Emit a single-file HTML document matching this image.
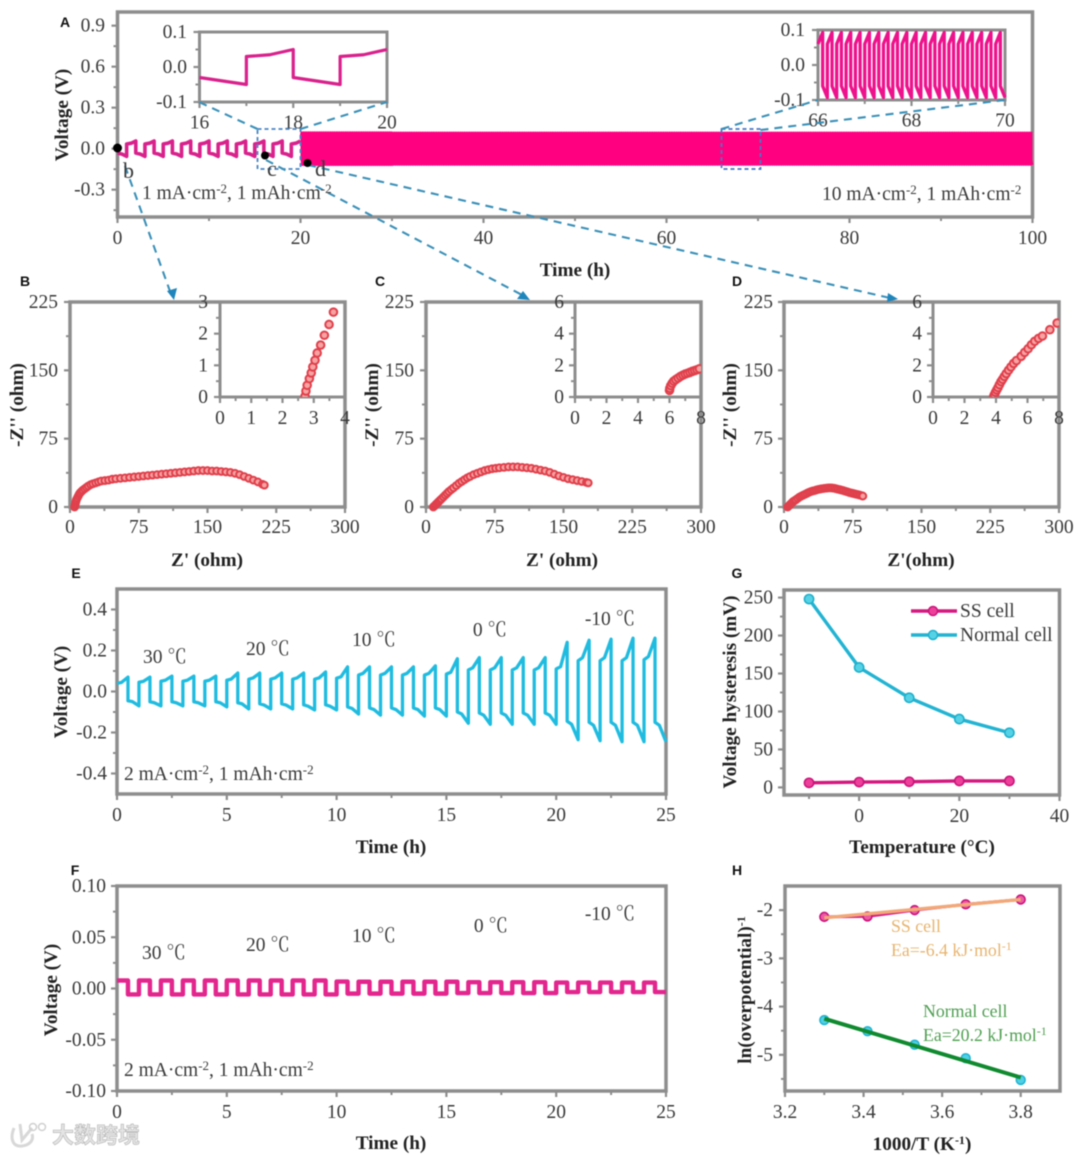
<!DOCTYPE html>
<html lang="en">
<head>
<meta charset="utf-8">
<title>Electrochemical cell performance panels</title>
<style>
html,body{margin:0;padding:0;background:#fff;}
svg{display:block;filter:blur(.4px);}
text{font-family:"Liberation Serif","Noto Serif CJK SC",serif;fill:#3a3a3a;}
.t{font-size:19.5px;}
.title{font-size:19.2px;font-weight:bold;fill:#222;text-anchor:middle;}
.tag{font-family:"Liberation Sans",sans-serif;font-size:14px;font-weight:bold;fill:#111;text-anchor:middle;}
.cap{font-size:19.5px;}
.tmp{font-size:19.5px;text-anchor:middle;}
</style>
</head>
<body>
<svg id="figure" xmlns="http://www.w3.org/2000/svg" width="1080" height="1155" viewBox="0 0 1080 1155">
  <defs>
    <clipPath id="clip-b"><rect x="220" y="302" width="125" height="95"/></clipPath>
    <clipPath id="clip-c"><rect x="575" y="302" width="126" height="95"/></clipPath>
    <clipPath id="clip-d"><rect x="933" y="302" width="126" height="95"/></clipPath>
  </defs>
  <rect width="1080" height="1155" fill="#fff"/>
  <g id="plots"></g>

  <g fill="none">
    <rect x="257.5" y="129" width="43" height="40" stroke="#4a85c4" stroke-width="1.8" stroke-dasharray="4 3"/>
    <rect x="721.5" y="129" width="39" height="40" stroke="#4a75c4" stroke-width="1.8" stroke-dasharray="4 3"/>
    <g stroke="#3a90b8" stroke-width="2.1" stroke-dasharray="8 6">
      <line x1="257.5" y1="129" x2="199" y2="102"/>
      <line x1="300.5" y1="129" x2="387" y2="102"/>
      <line x1="721.5" y1="129" x2="818" y2="100"/>
      <line x1="760.5" y1="130" x2="1005" y2="100"/>
      <line x1="125" y1="166" x2="171" y2="294"/>
      <line x1="266" y1="160" x2="524" y2="296"/>
      <line x1="308" y1="165" x2="890" y2="298"/>
    </g>
    <polygon points="167,291 177,288 174,300" fill="#1f86bc"/>
    <polygon points="523,291 530,300 517,299" fill="#1f86bc"/>
    <polygon points="888,293 898,299 887,302" fill="#1f86bc"/>
  </g>

  <g fill="#000">
    <circle cx="117.5" cy="148" r="4.5"/>
    <circle cx="265" cy="155.5" r="4"/>
    <circle cx="307.5" cy="163" r="4"/>
  </g>

  <g>
    <text class="tag" x="65" y="27">A</text>
    <text class="tag" x="25" y="286">B</text>
    <text class="tag" x="380" y="286">C</text>
    <text class="tag" x="737" y="286">D</text>
    <text class="tag" x="76" y="578">E</text>
    <text class="tag" x="737" y="578">G</text>
    <text class="tag" x="75" y="875">F</text>
    <text class="tag" x="737" y="875">H</text>
  </g>

  <g>
    <text class="title" x="0" y="0" transform="translate(68,115) rotate(-90)">Voltage (V)</text>
    <text class="title" x="575" y="276">Time (h)</text>
    <text class="title" x="0" y="0" transform="translate(23,405) rotate(-90)">-Z'' (ohm)</text>
    <text class="title" x="207" y="566">Z' (ohm)</text>
    <text class="title" x="0" y="0" transform="translate(378,405) rotate(-90)">-Z'' (ohm)</text>
    <text class="title" x="562" y="566">Z' (ohm)</text>
    <text class="title" x="0" y="0" transform="translate(736,405) rotate(-90)">-Z'' (ohm)</text>
    <text class="title" x="921" y="566">Z'(ohm)</text>
    <text class="title" x="0" y="0" transform="translate(67,692) rotate(-90)">Voltage (V)</text>
    <text class="title" x="391" y="853">Time (h)</text>
    <text class="title" x="0" y="0" transform="translate(736,692) rotate(-90)">Voltage hysteresis (mV)</text>
    <text class="title" x="922" y="853">Temperature (°C)</text>
    <text class="title" x="0" y="0" transform="translate(57,990) rotate(-90)">Voltage (V)</text>
    <text class="title" x="391" y="1149">Time (h)</text>
    <text class="title" x="0" y="0" transform="translate(751,990) rotate(-90)">ln(overpotential)<tspan dy="-6" font-size="12">-1</tspan></text>
    <text class="title" x="922" y="1150">1000/T (K<tspan dy="-6" font-size="12">-1</tspan><tspan dy="6">)</tspan></text>
  </g>

  <g>
    <text x="123" y="178" style="font-size:22px">b</text>
    <text x="267" y="176" style="font-size:22px">c</text>
    <text x="315" y="176" style="font-size:22px">d</text>
    <text class="cap" x="142" y="199">1  mA·cm<tspan dy="-6" font-size="13">-2</tspan><tspan dy="6">, 1 mAh·cm</tspan><tspan dy="-6" font-size="13">-2</tspan></text>
    <text class="cap" x="822" y="200">10  mA·cm<tspan dy="-6" font-size="13">-2</tspan><tspan dy="6">, 1 mAh·cm</tspan><tspan dy="-6" font-size="13">-2</tspan></text>
    <text class="cap" x="124" y="780">2 mA·cm<tspan dy="-6" font-size="13">-2</tspan><tspan dy="6">, 1 mAh·cm</tspan><tspan dy="-6" font-size="13">-2</tspan></text>
    <text class="tmp" x="165" y="663">30 ℃</text>
    <text class="tmp" x="268" y="655">20 ℃</text>
    <text class="tmp" x="374" y="646">10 ℃</text>
    <text class="tmp" x="490" y="636">0 ℃</text>
    <text class="tmp" x="610" y="625">-10 ℃</text>
    <text class="cap" x="124" y="1076">2 mA·cm<tspan dy="-6" font-size="13">-2</tspan><tspan dy="6">, 1 mAh·cm</tspan><tspan dy="-6" font-size="13">-2</tspan></text>
    <text class="tmp" x="164" y="959">30 ℃</text>
    <text class="tmp" x="268" y="951">20 ℃</text>
    <text class="tmp" x="374" y="942">10 ℃</text>
    <text class="tmp" x="491" y="932">0 ℃</text>
    <text class="tmp" x="610" y="920">-10 ℃</text>
    <text x="891" y="932" style="font-size:17.8px;fill:#e8b46e">SS cell</text>
    <text x="891" y="956" style="font-size:17.8px;fill:#e8b46e">Ea=-6.4 kJ·mol<tspan dy="-6" font-size="12">-1</tspan></text>
    <text x="923" y="1017" style="font-size:17.8px;fill:#4f9f52">Normal cell</text>
    <text x="923" y="1041" style="font-size:17.8px;fill:#4f9f52">Ea=20.2 kJ·mol<tspan dy="-6" font-size="12">-1</tspan></text>
  </g>

  <g>
    <line x1="911" y1="611" x2="957" y2="611" stroke="#d4187f" stroke-width="3.4"/>
    <circle cx="933" cy="611" r="4.5" fill="#ee3f9b" stroke="#c9157a" stroke-width="1.5"/>
    <text class="t" x="960" y="617">SS cell</text>
    <line x1="911" y1="635" x2="957" y2="635" stroke="#22b4d3" stroke-width="3.4"/>
    <circle cx="933" cy="635" r="4.5" fill="#56d2e6" stroke="#1fb0cc" stroke-width="1.5"/>
    <text class="t" x="960" y="641">Normal cell</text>
  </g>

  <g>
    <path d="M14 1128 C10 1138 12 1147 22 1146 C30 1145 34 1140 32 1134 M20 1124 L22 1140 L32 1128" fill="none" stroke="#d8d8d8" stroke-width="3"/>
    <circle cx="33" cy="1127" r="3.5" fill="none" stroke="#d0d0d0" stroke-width="1.5"/>
    <circle cx="42" cy="1127" r="3.5" fill="none" stroke="#d0d0d0" stroke-width="1.5"/>
    <text x="52" y="1143" style="font-family:'Liberation Sans','Noto Sans CJK SC',sans-serif;font-size:22px;font-weight:bold;fill:#e4e4e4;stroke:#b5b5b5;stroke-width:.6">大数跨境</text>
  </g>
</svg>

<script>
// ---------- Panel A data ----------
const aXLabels = ['0','20','40','60','80','100'];
const aYLabels = ['-0.3','0.0','0.3','0.6','0.9'];
const aPosPeak = [.056,.056,.056,.056,.056,.056,.056,.056,.056,.056];
const aPosPlateau = [.034,.034,.034,.034,.034,.034,.034,.034,.034,.034];
const aNegPeak = [-.056,-.056,-.056,-.056,-.056,-.056,-.056,-.056,-.056,-.056];
const aNegPlateau = [-.032,-.032,-.032,-.032,-.032,-.032,-.032,-.032,-.032,-.032];
const aBandDecades = [20,30,40,50,60,70,80,90];
const aBandPeak = [.121,.119,.119,.119,.119,.119,.119,.119];
const aBandPlateau = [.085,.085,.085,.085,.085,.085,.085,.085];
// inset 16-20 h
const a1XLabels = ['16','18','20'];
const a1YLabels = ['-0.1','0.0','0.1'];
const a1Time = [16,16.5,17,17,17.5,18,18,18.5,19,19,19.5,20];
const a1Volt = [-.03,-.04,-.05,.03,.035,.05,-.03,-.04,-.05,.03,.035,.05];
// inset 66-70 h
const a2XLabels = ['66','68','70'];
const a2YLabels = ['-0.1','0.0','0.1'];
const a2Peak = [.093,.093,.093,.093,.093,.093,.093,.093,.093,.093,.093,.093,.093,.093,.093,.093,.093,.093,.093,.093];
const a2Plateau = [.06,.06,.06,.06,.06,.06,.06,.06,.06,.06,.06,.06,.06,.06,.06,.06,.06,.06,.06,.06];

// ---------- Panels B, C, D data ----------
const zXLabels = ['0','75','150','225','300'];
const zYLabels = ['0','75','150','225'];
const bZreal = [5,5.5,6,6.5,7,8,9,10,11,12.5,14,16,18,20,22.5,25,28,31,34,38,42,46,50,55,60,65,70,75,80,85,90,95,100,105,110,115,120,125,130,135,140,145,150,155,160,165,170,175,180,185,190,195,200,205,210,212];
const bZimag = [0,2,4,6,8,10,12,14,15.5,17,18.5,20,21.5,23,24.5,25.5,26.5,27.5,28.5,29,29.5,30.5,31,31.5,32,32.5,33,33.5,34,34.5,35,35.5,36,36.5,37,37.5,38,38.5,39,39.5,40,40,40,39.5,39.5,39,38.5,38,37,35.5,33.5,31.5,29.5,27.5,25,24];
const bInXLabels = ['0','1','2','3','4'];
const bInYLabels = ['0','1','2','3'];
const bInReal = [2.72,2.75,2.79,2.86,2.92,2.97,3.04,3.11,3.22,3.34,3.49,3.63];
const bInImag = [.02,.19,.37,.58,.76,.95,1.16,1.39,1.64,1.95,2.29,2.68];

const cZreal = [8,9,10,11,12,13,14,15.5,17,19,21,23,25,27.5,30,33,36,39,42,45,48,52,56,60,64,68,72,76,80,85,90,95,100,105,110,115,120,125,130,135,140,145,150,155,160,165,170,175,177];
const cZimag = [0,1,2,3,4,5,6,7.5,9,11,13,15,17,19,21,23.5,26,28,30,32,33.5,35.5,37,38.5,40,41,42,42.5,43,43.5,44,44,44,43.5,43,42.5,41.5,40.5,39.5,38,36,34,32.5,31,30,29,28,27,26.5];
const cInXLabels = ['0','2','4','6','8'];
const cInYLabels = ['0','2','4','6'];
const cInReal = [6.0,6.02,6.08,6.17,6.27,6.4,6.55,6.7,6.85,7.0,7.15,7.3,7.45,7.6,7.75,7.9];
const cInImag = [.42,.55,.72,.87,1.0,1.1,1.2,1.3,1.38,1.45,1.5,1.56,1.62,1.67,1.72,1.78];

const dZreal = [4,5,6,7,8,9,10,11.5,13,15,17,19,21,23,25,27,29,31,33,35,37,39,41,43,45,47,49,51,53,55,57,59,61,63,65,67,69,71,73,75,77,79,81,83,85,86];
const dZimag = [0,1,2,3,4,5,6,7,8,9.5,11,12,13,14,15,16,16.8,17.5,18,18.6,19.2,19.6,20,20.3,20.6,20.8,21,21,20.8,20.5,20,19.5,19,18.5,18,17.3,16.7,16,15.5,15,14.5,14,13.5,13,12.3,12];
const dInReal = [3.85,3.9,3.97,4.05,4.13,4.22,4.32,4.42,4.53,4.65,4.8,4.95,5.12,5.3,5.6,5.82,6.04,6.25,6.46,6.7,6.95,7.42,7.88];
const dInImag = [.03,.15,.3,.45,.6,.78,.97,1.12,1.3,1.48,1.7,1.9,2.12,2.3,2.57,2.82,3.05,3.3,3.52,3.7,3.85,4.25,4.67];

// ---------- Panel E data (one value per 1 h cycle) ----------
const eXLabels = ['0','5','10','15','20','25'];
const eYLabels = ['-0.4','-0.2','0.0','0.2','0.4'];
const ePosPlateau = [.04,.045,.05,.05,.05,.055,.06,.06,.06,.06,.065,.08,.08,.08,.08,.085,.105,.105,.105,.105,.11,.15,.15,.15,.155];
const ePosPeak = [.07,.07,.075,.075,.075,.09,.09,.09,.09,.095,.12,.12,.12,.12,.125,.16,.165,.165,.165,.165,.24,.25,.255,.26,.26];
const eNegPlateau = [-.045,-.05,-.05,-.05,-.05,-.055,-.06,-.06,-.065,-.065,-.075,-.08,-.08,-.08,-.08,-.1,-.105,-.105,-.105,-.105,-.145,-.15,-.15,-.15,-.15];
const eNegPeak = [-.07,-.07,-.07,-.07,-.075,-.085,-.085,-.085,-.09,-.09,-.11,-.115,-.115,-.12,-.12,-.155,-.16,-.16,-.16,-.16,-.235,-.24,-.245,-.245,-.245];

// ---------- Panel F data (one value per 1 h cycle) ----------
const fXLabels = ['0','5','10','15','20','25'];
const fYLabels = ['-0.10','-0.05','0.00','0.05','0.10'];
const fHigh = [.0078,.0078,.0078,.0078,.0078,.0078,.0078,.0078,.0078,.0078,.0068,.0066,.0066,.0066,.0066,.0066,.0062,.0062,.0062,.0062,.0058,.0058,.0058,.0058,.0058];
const fLow = [-.0058,-.0058,-.0058,-.0058,-.0058,-.0058,-.0058,-.0058,-.0058,-.0058,-.005,-.005,-.005,-.005,-.005,-.0045,-.0045,-.0045,-.0045,-.0045,-.0035,-.0035,-.0035,-.0035,-.0035];

// ---------- Panel G data ----------
const gXLabels = ['0','20','40'];
const gYLabels = ['0','50','100','150','200','250'];
const gTemperature = [-10,0,10,20,30];
const gSSCell = [6,7,7.5,8.5,8.5];
const gNormalCell = [248,158,118,90,72];

// ---------- Panel H data ----------
const hXLabels = ['3.2','3.4','3.6','3.8'];
const hYLabels = ['-5','-4','-3','-2'];
const hInvT = [3.30,3.41,3.53,3.66,3.80];
const hSS = [-2.14,-2.13,-2.0,-1.88,-1.78];
const hNormal = [-4.28,-4.51,-4.79,-5.07,-5.52];
const hFitX = [3.30,3.80];
const hSSFit = [-2.16,-1.78];
const hNormalFit = [-4.25,-5.47];

// ---------- Helpers ----------
const SVGNS = 'http://www.w3.org/2000/svg';
const plots = document.getElementById('plots');
const GREY = '#8d8d8d';

function add(tag, attrs, name, parent) {
  const el = document.createElementNS(SVGNS, tag);
  for (const k in attrs) el.setAttribute(k, attrs[k]);
  
  
  (parent || plots).appendChild(el);
  return el;
}
function scale(d0, d1, r0, r1) {
  return v => r0 + (v - d0) * (r1 - r0) / (d1 - d0);
}
function minors(labels, lo, hi) {
  const t = labels.map(Number);
  const step = t[1] - t[0];
  const out = [];
  for (let i = -1; i < t.length; i++) {
    const v = t[0] + (i + .5) * step;
    if (v > lo + 1e-9 && v < hi - 1e-9) out.push(v);
  }
  return out;
}
function drawAxes(o) {
  const sx = scale(o.xd[0], o.xd[1], o.l, o.r);
  const sy = scale(o.yd[0], o.yd[1], o.b, o.t);
  const g = add('g', {}, o.name + '-axes');
  const lineAttrs = (x1, y1, x2, y2, w) => ({x1, y1, x2, y2, stroke: GREY, 'stroke-width': w});
  o.xLabels.forEach(s => {
    const v = Number(s), x = sx(v);
    add('line', lineAttrs(x, o.b, x, o.b + 6, 2.2), o.name + '-x-tick', g);
    const t = add('text', {x: x, y: o.xLabelY + 6, 'text-anchor': 'middle', class: 't'}, o.name + '-x-tick-label', g);
    t.textContent = s;
  });
  minors(o.xLabels, o.xd[0], o.xd[1]).forEach(v => {
    add('line', lineAttrs(sx(v), o.b, sx(v), o.b + 4, 2), o.name + '-x-minor-tick', g);
  });
  o.yLabels.forEach(s => {
    const v = Number(s), y = sy(v);
    add('line', lineAttrs(o.l - 6, y, o.l, y, 2.2), o.name + '-y-tick', g);
    const t = add('text', {x: o.yLabelX, y: y + 6, 'text-anchor': 'end', class: 't'}, o.name + '-y-tick-label', g);
    t.textContent = s;
  });
  minors(o.yLabels, o.yd[0], o.yd[1]).forEach(v => {
    add('line', lineAttrs(o.l - 4, sy(v), o.l, sy(v), 2), o.name + '-y-minor-tick', g);
  });
  add('rect', {x: o.l, y: o.t, width: o.r - o.l, height: o.b - o.t, fill: 'none', stroke: GREY, 'stroke-width': o.frameW || 3.5}, o.name + '-frame', g);
  return {sx, sy};
}
function polyline(pts, color, width, name, extra) {
  const attrs = Object.assign({
    points: pts.map(p => p[0].toFixed(2) + ',' + p[1].toFixed(2)).join(' '),
    fill: 'none', stroke: color, 'stroke-width': width, 'stroke-linejoin': 'round'
  }, extra || {});
  return add('polyline', attrs, name);
}
function nyquist(xs, ys, sc, r, name, clip) {
  const g = add('g', clip ? {'clip-path': 'url(#' + clip + ')'} : {}, name);
  xs.forEach((x, i) => {
    add('circle', {cx: sc.sx(x), cy: sc.sy(ys[i]), r: r, fill: '#f6a3a2', stroke: '#e0404c', 'stroke-width': 2}, name + '-point', g);
  });
}
function dots(xs, ys, sc, r, fill, stroke, name) {
  xs.forEach((x, i) => {
    add('circle', {cx: sc.sx(x), cy: sc.sy(ys[i]), r: r, fill: fill, stroke: stroke, 'stroke-width': 1.6}, name);
  });
}

// ---------- Panel A ----------
const A = drawAxes({name: 'a', xd: [0, 100], yd: [-.5, 1], l: 117.5, r: 1032.5, t: 12, b: 217, xLabels: aXLabels, yLabels: aYLabels, xLabelY: 238, yLabelX: 105});
const aPts = [];
aPosPeak.forEach((_, i) => {
  const k = i * 2;
  aPts.push([A.sx(k), A.sy(aNegPlateau[i])], [A.sx(k + .5), A.sy(aNegPlateau[i] - .008)], [A.sx(k + 1), A.sy(aNegPeak[i])]);
  aPts.push([A.sx(k + 1), A.sy(aPosPlateau[i])], [A.sx(k + 1.5), A.sy(aPosPlateau[i] + .006)], [A.sx(k + 2), A.sy(aPosPeak[i])]);
});
polyline(aPts, '#d9218c', 3.6, 'a-wave-1ma');
const bandPts = [];
aBandDecades.forEach((start, d) => {
  for (let c = 0; c < 50; c++) {
    const t = start + c * .2;
    bandPts.push([A.sx(t), A.sy(aBandPlateau[d])], [A.sx(t + .1), A.sy(aBandPeak[d])]);
    bandPts.push([A.sx(t + .1), A.sy(-aBandPlateau[d])], [A.sx(t + .2), A.sy(-aBandPeak[d])]);
  }
});
polyline(bandPts, '#ff0080', 1.8, 'a-band-10ma');

const A1 = drawAxes({name: 'a-inset-left', xd: [16, 20], yd: [-.1, .1], l: 199.5, r: 387, t: 32, b: 102, xLabels: a1XLabels, yLabels: a1YLabels, xLabelY: 122.5, yLabelX: 187, frameW: 3});
polyline(a1Time.map((t, i) => [A1.sx(t), A1.sy(a1Volt[i])]), '#d9218c', 3.2, 'a-inset-left-wave');

const A2 = drawAxes({name: 'a-inset-right', xd: [66, 70], yd: [-.1, .1], l: 818, r: 1005, t: 30, b: 100, xLabels: a2XLabels, yLabels: a2YLabels, xLabelY: 120.5, yLabelX: 805, frameW: 3});
const a2Pts = [];
a2Peak.forEach((p, i) => {
  const t = 66 + i * .2;
  a2Pts.push([A2.sx(t), A2.sy(a2Plateau[i])], [A2.sx(t + .1), A2.sy(p)]);
  a2Pts.push([A2.sx(t + .1), A2.sy(-a2Plateau[i])], [A2.sx(t + .2), A2.sy(-p)]);
});
polyline(a2Pts, '#ee118c', 3.3, 'a-inset-right-wave');

// ---------- Panels B, C, D ----------
const B = drawAxes({name: 'b', xd: [0, 300], yd: [0, 225], l: 70, r: 345, t: 302, b: 507, xLabels: zXLabels, yLabels: zYLabels, xLabelY: 527, yLabelX: 58});
nyquist(bZreal, bZimag, B, 3.4, 'b-nyquist');
const BI = drawAxes({name: 'b-inset', xd: [0, 4], yd: [0, 3], l: 220, r: 345, t: 302, b: 397, xLabels: bInXLabels, yLabels: bInYLabels, xLabelY: 418, yLabelX: 208, frameW: 3});
nyquist(bInReal, bInImag, BI, 3.8, 'b-inset-nyquist', 'clip-b');

const C = drawAxes({name: 'c', xd: [0, 300], yd: [0, 225], l: 426, r: 701, t: 302, b: 507, xLabels: zXLabels, yLabels: zYLabels, xLabelY: 527, yLabelX: 414});
nyquist(cZreal, cZimag, C, 3.4, 'c-nyquist');
const CI = drawAxes({name: 'c-inset', xd: [0, 8], yd: [0, 6], l: 575, r: 701, t: 302, b: 397, xLabels: cInXLabels, yLabels: cInYLabels, xLabelY: 418, yLabelX: 564, frameW: 3});
nyquist(cInReal, cInImag, CI, 3.8, 'c-inset-nyquist', 'clip-c');

const D = drawAxes({name: 'd', xd: [0, 300], yd: [0, 225], l: 784, r: 1059, t: 302, b: 507, xLabels: zXLabels, yLabels: zYLabels, xLabelY: 527, yLabelX: 773});
nyquist(dZreal, dZimag, D, 3.4, 'd-nyquist');
const DI = drawAxes({name: 'd-inset', xd: [0, 8], yd: [0, 6], l: 933, r: 1059, t: 302, b: 397, xLabels: cInXLabels, yLabels: cInYLabels, xLabelY: 418, yLabelX: 922, frameW: 3});
nyquist(dInReal, dInImag, DI, 3.8, 'd-inset-nyquist', 'clip-d');

// ---------- Panel E ----------
const E = drawAxes({name: 'e', xd: [0, 25], yd: [-.5, .5], l: 117, r: 666, t: 589, b: 794, xLabels: eXLabels, yLabels: eYLabels, xLabelY: 815, yLabelX: 107});
const ePts = [];
ePosPeak.forEach((_, k) => {
  ePts.push([E.sx(k), E.sy(ePosPlateau[k])], [E.sx(k + .2), E.sy(ePosPlateau[k] * 1.1)], [E.sx(k + .5), E.sy(ePosPeak[k])]);
  ePts.push([E.sx(k + .5), E.sy(eNegPlateau[k])], [E.sx(k + .7), E.sy(eNegPlateau[k] * 1.1)], [E.sx(k + 1), E.sy(eNegPeak[k])]);
});
polyline(ePts, '#1fbce0', 3.3, 'e-voltage-line');

// ---------- Panel F ----------
const F = drawAxes({name: 'f', xd: [0, 25], yd: [-.1, .1], l: 117, r: 666, t: 886, b: 1091, xLabels: fXLabels, yLabels: fYLabels, xLabelY: 1112, yLabelX: 106});
const fPts = [];
fHigh.forEach((h, k) => {
  fPts.push([F.sx(k), F.sy(h)], [F.sx(k + .5), F.sy(h)], [F.sx(k + .5), F.sy(fLow[k])], [F.sx(k + 1), F.sy(fLow[k])]);
});
polyline(fPts, '#e3268e', 4.4, 'f-voltage-line');

// ---------- Panel G ----------
const G = drawAxes({name: 'g', xd: [-15, 40], yd: [-10, 260], l: 784, r: 1059.5, t: 590, b: 795, xLabels: gXLabels, yLabels: gYLabels, xLabelY: 816, yLabelX: 773});
polyline(gTemperature.map((t, i) => [G.sx(t), G.sy(gNormalCell[i])]), '#22b4d3', 3.4, 'g-normal-line');
dots(gTemperature, gNormalCell, G, 4.6, '#56d2e6', '#1fb0cc', 'g-normal-point');
polyline(gTemperature.map((t, i) => [G.sx(t), G.sy(gSSCell[i])]), '#d4187f', 3.4, 'g-ss-line');
dots(gTemperature, gSSCell, G, 4.6, '#ee3f9b', '#c9157a', 'g-ss-point');

// ---------- Panel H ----------
const H = drawAxes({name: 'h', xd: [3.2, 3.9], yd: [-5.75, -1.5], l: 785, r: 1060, t: 886, b: 1091, xLabels: hXLabels, yLabels: hYLabels, xLabelY: 1112, yLabelX: 773});
polyline(hInvT.map((t, i) => [H.sx(t), H.sy(hSS[i])]), '#d9218c', 3, 'h-ss-line');
dots(hInvT, hSS, H, 4.4, '#ee5aa5', '#c9157a', 'h-ss-point');
polyline(hFitX.map((t, i) => [H.sx(t), H.sy(hSSFit[i])]), '#f2a878', 3.4, 'h-ss-fit');
dots(hInvT, hNormal, H, 4.4, '#4fd0e6', '#22b4d3', 'h-normal-point');
polyline(hFitX.map((t, i) => [H.sx(t), H.sy(hNormalFit[i])]), '#0f8a2e', 4, 'h-normal-fit');
</script>
</body>
</html>
